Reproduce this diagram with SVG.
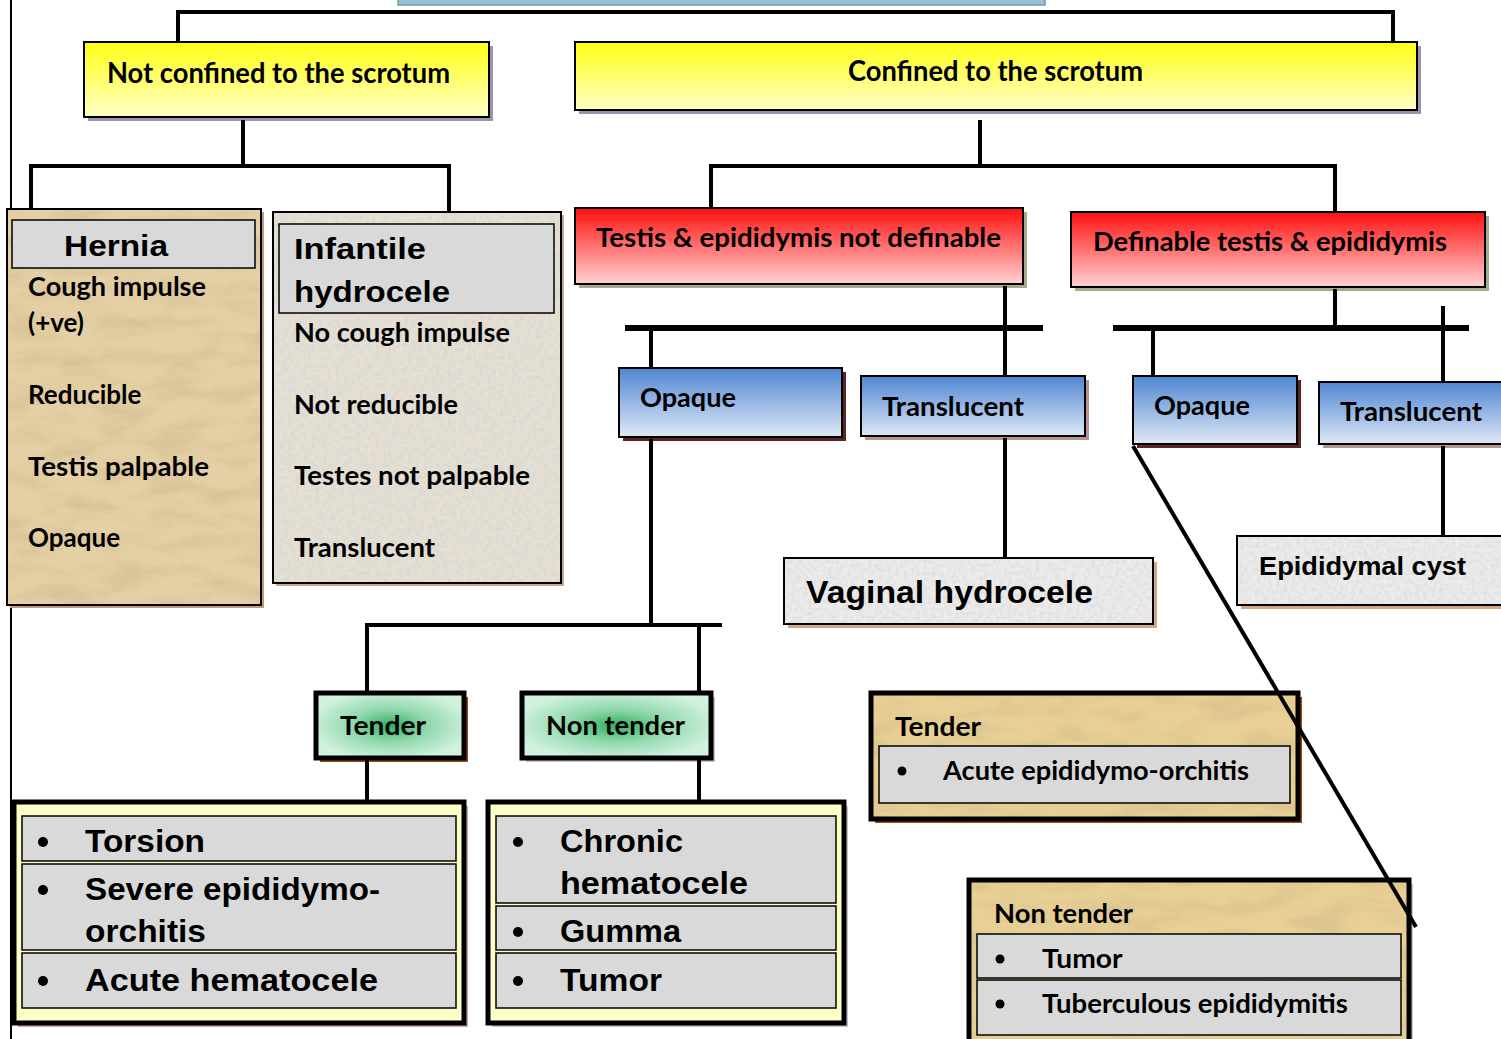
<svg xmlns="http://www.w3.org/2000/svg" width="1501" height="1039" viewBox="0 0 1501 1039">
<defs>
<linearGradient id="gYellow" x1="0" y1="0" x2="0" y2="1"><stop offset="0" stop-color="#ffff14"/><stop offset="1" stop-color="#ffffc8"/></linearGradient>
<linearGradient id="gRed" x1="0" y1="0" x2="0" y2="1"><stop offset="0" stop-color="#ff1010"/><stop offset="1" stop-color="#ffd2d2"/></linearGradient>
<linearGradient id="gBlue" x1="0" y1="0" x2="0" y2="1"><stop offset="0" stop-color="#4f86d2"/><stop offset="1" stop-color="#dfe8f6"/></linearGradient>
<radialGradient id="gGreen" cx="0.5" cy="0.5" r="0.55"><stop offset="0" stop-color="#2fb060"/><stop offset="0.45" stop-color="#8fd8ac"/><stop offset="1" stop-color="#d2f2e0"/></radialGradient>
<filter id="tex" x="0" y="0" width="100%" height="100%">
<feTurbulence type="fractalNoise" baseFrequency="0.02 0.06" numOctaves="4" seed="7" result="n"/>
<feColorMatrix in="n" type="matrix" values="0 0 0 0 0.55  0 0 0 0 0.42  0 0 0 0 0.22  0.9 0 0 0 -0.35" result="c"/>
<feComposite in="c" in2="SourceGraphic" operator="atop"/>
</filter>
<filter id="texg" x="0" y="0" width="100%" height="100%">
<feTurbulence type="fractalNoise" baseFrequency="0.25" numOctaves="2" seed="3" result="n"/>
<feColorMatrix in="n" type="matrix" values="0 0 0 0 0.6  0 0 0 0 0.6  0 0 0 0 0.6  0.9 0 0 0 -0.3" result="c"/>
<feComposite in="c" in2="SourceGraphic" operator="atop"/>
</filter>
<style>
.c{font-family:Lato,"Open Sans","Liberation Sans",sans-serif;font-weight:bold;fill:#000}
.a{font-family:"Liberation Sans",Arial,sans-serif;font-weight:bold;fill:#000}
.b{stroke:#000;stroke-width:2}
.o{fill:none;stroke:#000;stroke-width:2}
.k{fill:none;stroke:#000;stroke-width:5}
.row{fill:#d9d9d9;stroke:#000;stroke-width:1.5}
.ln{stroke:#000;stroke-width:4;fill:none}
</style>
</defs>
<rect width="1501" height="1039" fill="#fff"/>
<rect x="398" y="-10" width="647" height="15" fill="#92c2d2" stroke="#7896a6" stroke-width="1.5"/>
<line x1="11" y1="0" x2="11" y2="1039" stroke="#000" stroke-width="2"/>

<g id="not-confined">
<rect x="88" y="46" width="405" height="75" fill="#9c94ac"/>
<rect x="84" y="42" width="405" height="75" fill="url(#gYellow)" class="b"/>
<text class="c" x="107" y="83" font-size="28" textLength="343" lengthAdjust="spacingAndGlyphs">Not confined to the scrotum</text>
</g>
<g id="confined">
<rect x="579" y="46" width="842" height="68" fill="#9c94ac"/>
<rect x="575" y="42" width="842" height="68" fill="url(#gYellow)" class="b"/>
<text class="c" x="848" y="81" font-size="29" textLength="295" lengthAdjust="spacingAndGlyphs">Confined to the scrotum</text>
</g>

<g id="hernia">
<rect x="10" y="212" width="254" height="396" fill="#c49a74"/>
<rect x="7" y="209" width="254" height="396" fill="#e4d0a4" filter="url(#tex)"/>
<rect x="7" y="209" width="254" height="396" class="o"/>
<rect x="12" y="220" width="243" height="48" class="row"/>
<text class="a" x="64" y="256" font-size="29" textLength="104" lengthAdjust="spacingAndGlyphs">Hernia</text>
<text class="c" font-size="26">
<tspan x="28" y="296" textLength="178" lengthAdjust="spacingAndGlyphs">Cough impulse</tspan>
<tspan x="28" y="332">(+ve)</tspan>
<tspan x="28" y="404">Reducible</tspan>
<tspan x="28" y="476" textLength="181" lengthAdjust="spacingAndGlyphs">Testis palpable</tspan>
<tspan x="28" y="547">Opaque</tspan>
</text>
</g>

<g id="infantile-hydrocele">
<rect x="276" y="215" width="288" height="371" fill="#c8a888"/>
<rect x="273" y="212" width="288" height="371" fill="#e6e0d4" filter="url(#texg)"/>
<rect x="273" y="212" width="288" height="371" class="o"/>
<rect x="279" y="224" width="275" height="89" class="row"/>
<text class="a" font-size="29">
<tspan x="294" y="259" textLength="132" lengthAdjust="spacingAndGlyphs">Infantile</tspan>
<tspan x="294" y="302" textLength="156" lengthAdjust="spacingAndGlyphs">hydrocele</tspan>
</text>
<text class="c" font-size="26">
<tspan x="294" y="342" textLength="216" lengthAdjust="spacingAndGlyphs">No cough impulse</tspan>
<tspan x="294" y="414" textLength="164" lengthAdjust="spacingAndGlyphs">Not reducible</tspan>
<tspan x="294" y="485" textLength="236" lengthAdjust="spacingAndGlyphs">Testes not palpable</tspan>
<tspan x="294" y="557" textLength="141" lengthAdjust="spacingAndGlyphs">Translucent</tspan>
</text>
</g>

<g id="not-definable">
<rect x="579" y="212" width="448" height="76" fill="#a4ac8c"/>
<rect x="575" y="208" width="448" height="76" fill="url(#gRed)" class="b"/>
<text class="c" x="596" y="247" font-size="27" textLength="405" lengthAdjust="spacingAndGlyphs">Testis &amp; epididymis not definable</text>
</g>
<g id="definable">
<rect x="1075" y="216" width="414" height="75" fill="#a4ac8c"/>
<rect x="1071" y="212" width="414" height="75" fill="url(#gRed)" class="b"/>
<text class="c" x="1093" y="251" font-size="27" textLength="354" lengthAdjust="spacingAndGlyphs">Definable testis &amp; epididymis</text>
</g>

<g id="opaque-1">
<rect x="623" y="372" width="223" height="69" fill="#5c2424"/>
<rect x="619" y="368" width="223" height="69" fill="url(#gBlue)" class="b"/>
<text class="c" x="640" y="407" font-size="27" textLength="96" lengthAdjust="spacingAndGlyphs">Opaque</text>
</g>
<g id="translucent-1">
<rect x="865" y="380" width="224" height="60" fill="#b49494"/>
<rect x="861" y="376" width="224" height="60" fill="url(#gBlue)" class="b"/>
<text class="c" x="882" y="416" font-size="27" textLength="142" lengthAdjust="spacingAndGlyphs">Translucent</text>
</g>
<g id="opaque-2">
<rect x="1137" y="380" width="164" height="68" fill="#5c2424"/>
<rect x="1133" y="376" width="164" height="68" fill="url(#gBlue)" class="b"/>
<text class="c" x="1154" y="415" font-size="27" textLength="96" lengthAdjust="spacingAndGlyphs">Opaque</text>
</g>
<g id="translucent-2">
<rect x="1323" y="386" width="190" height="62" fill="#b49494"/>
<rect x="1319" y="382" width="190" height="62" fill="url(#gBlue)" class="b"/>
<text class="c" x="1340" y="421" font-size="27" textLength="142" lengthAdjust="spacingAndGlyphs">Translucent</text>
</g>

<g id="vaginal-hydrocele">
<rect x="788" y="562" width="369" height="66" fill="#d0a888"/>
<rect x="784" y="558" width="369" height="66" fill="#ececec" filter="url(#texg)"/>
<rect x="784" y="558" width="369" height="66" class="o"/>
<text class="a" x="806" y="603" font-size="31" textLength="287" lengthAdjust="spacingAndGlyphs">Vaginal hydrocele</text>
</g>
<g id="epididymal-cyst">
<rect x="1241" y="540" width="270" height="69" fill="#d0a888"/>
<rect x="1237" y="536" width="270" height="69" fill="#ececec" filter="url(#texg)"/>
<rect x="1237" y="536" width="270" height="69" class="o"/>
<text class="a" x="1259" y="575" font-size="25" textLength="207" lengthAdjust="spacingAndGlyphs">Epididymal cyst</text>
</g>

<g id="tender-1">
<rect x="320" y="697" width="148" height="65" fill="#9a4a10"/>
<rect x="316" y="693" width="148" height="65" fill="url(#gGreen)" stroke="#000" stroke-width="5"/>
<text class="c" x="340" y="735" font-size="27" textLength="86" lengthAdjust="spacingAndGlyphs">Tender</text>
</g>
<g id="non-tender-1">
<rect x="526" y="697" width="189" height="65" fill="#c4c4c4"/>
<rect x="522" y="693" width="189" height="65" fill="url(#gGreen)" stroke="#000" stroke-width="5"/>
<text class="c" x="546" y="735" font-size="27" textLength="139" lengthAdjust="spacingAndGlyphs">Non tender</text>
</g>

<g id="tender-list">
<rect x="18" y="806" width="450" height="221" fill="#c8a8a8"/>
<rect x="14" y="802" width="450" height="221" fill="#ffffc8" stroke="#000" stroke-width="5"/>
<rect x="22" y="816" width="434" height="45" class="row"/>
<rect x="22" y="864" width="434" height="86" class="row"/>
<rect x="22" y="953" width="434" height="55" class="row"/>
<g fill="#000"><circle cx="43" cy="842" r="5"/><circle cx="43" cy="890" r="5"/><circle cx="43" cy="981" r="5"/></g>
<text class="a" font-size="31">
<tspan x="85" y="852" textLength="120" lengthAdjust="spacingAndGlyphs">Torsion</tspan>
<tspan x="85" y="900" textLength="295" lengthAdjust="spacingAndGlyphs">Severe epididymo-</tspan>
<tspan x="85" y="942" textLength="121" lengthAdjust="spacingAndGlyphs">orchitis</tspan>
<tspan x="85" y="991" textLength="293" lengthAdjust="spacingAndGlyphs">Acute hematocele</tspan>
</text>
</g>
<g id="non-tender-list">
<rect x="492" y="806" width="356" height="221" fill="#c4c4c4"/>
<rect x="488" y="802" width="356" height="221" fill="#ffffc8" stroke="#000" stroke-width="5"/>
<rect x="496" y="816" width="340" height="87" class="row"/>
<rect x="496" y="906" width="340" height="44" class="row"/>
<rect x="496" y="953" width="340" height="55" class="row"/>
<g fill="#000"><circle cx="518" cy="842" r="5"/><circle cx="518" cy="932" r="5"/><circle cx="518" cy="981" r="5"/></g>
<text class="a" font-size="31">
<tspan x="560" y="852" textLength="123" lengthAdjust="spacingAndGlyphs">Chronic</tspan>
<tspan x="560" y="894" textLength="188" lengthAdjust="spacingAndGlyphs">hematocele</tspan>
<tspan x="560" y="942" textLength="121" lengthAdjust="spacingAndGlyphs">Gumma</tspan>
<tspan x="560" y="991" textLength="102" lengthAdjust="spacingAndGlyphs">Tumor</tspan>
</text>
</g>

<g id="tender-2">
<rect x="875" y="697" width="427" height="126" fill="#9a4a10"/>
<rect x="871" y="693" width="427" height="126" fill="#e8d095" filter="url(#tex)"/>
<rect x="871" y="693" width="427" height="126" class="k"/>
<text class="c" x="895" y="736" font-size="27" textLength="86" lengthAdjust="spacingAndGlyphs">Tender</text>
<rect x="879" y="746" width="411" height="57" class="row"/>
<circle cx="902" cy="771" r="4.5" fill="#000"/>
<text class="c" x="943" y="780" font-size="27" textLength="306" lengthAdjust="spacingAndGlyphs">Acute epididymo-orchitis</text>
</g>
<g id="non-tender-2">
<rect x="973" y="884" width="440" height="160" fill="#c4c4c4"/>
<rect x="969" y="880" width="440" height="165" fill="#e8d095" filter="url(#tex)"/>
<rect x="969" y="880" width="440" height="165" class="k"/>
<text class="c" x="994" y="923" font-size="27" textLength="139" lengthAdjust="spacingAndGlyphs">Non tender</text>
<rect x="977" y="934" width="424" height="44" class="row"/>
<rect x="977" y="980" width="424" height="55" class="row"/>
<circle cx="1000" cy="959" r="4.5" fill="#000"/>
<circle cx="1000" cy="1004" r="4.5" fill="#000"/>
<text class="c" font-size="27">
<tspan x="1042" y="968" textLength="80" lengthAdjust="spacingAndGlyphs">Tumor</tspan>
<tspan x="1042" y="1013" textLength="306" lengthAdjust="spacingAndGlyphs">Tuberculous epididymitis</tspan>
</text>
</g>

<g id="connectors">
<polyline class="ln" points="178,42 178,12 1393,12 1393,42"/>
<line class="ln" x1="243" y1="120" x2="243" y2="166"/>
<polyline class="ln" points="31,210 31,166 449,166 449,212"/>
<line class="ln" x1="980" y1="120" x2="980" y2="166"/>
<polyline class="ln" points="711,208 711,166 1335,166 1335,212"/>
<line class="ln" x1="1005" y1="286" x2="1005" y2="376"/>
<line x1="625" y1="328" x2="1043" y2="328" stroke="#000" stroke-width="6"/>
<line class="ln" x1="651" y1="328" x2="651" y2="368"/>
<line class="ln" x1="1335" y1="289" x2="1335" y2="328"/>
<line x1="1113" y1="328" x2="1469" y2="328" stroke="#000" stroke-width="6"/>
<line class="ln" x1="1153" y1="328" x2="1153" y2="376"/>
<line class="ln" x1="1443" y1="306" x2="1443" y2="382"/>
<line class="ln" x1="1005" y1="438" x2="1005" y2="558"/>
<line class="ln" x1="1443" y1="446" x2="1443" y2="536"/>
<line class="ln" x1="651" y1="439" x2="651" y2="625"/>
<polyline class="ln" points="367,693 367,625 722,625"/>
<line class="ln" x1="699" y1="625" x2="699" y2="693"/>
<line class="ln" x1="367" y1="760" x2="367" y2="802"/>
<line class="ln" x1="699" y1="760" x2="699" y2="802"/>
<line class="ln" x1="1133" y1="446" x2="1416" y2="927"/>
</g>
</svg>
